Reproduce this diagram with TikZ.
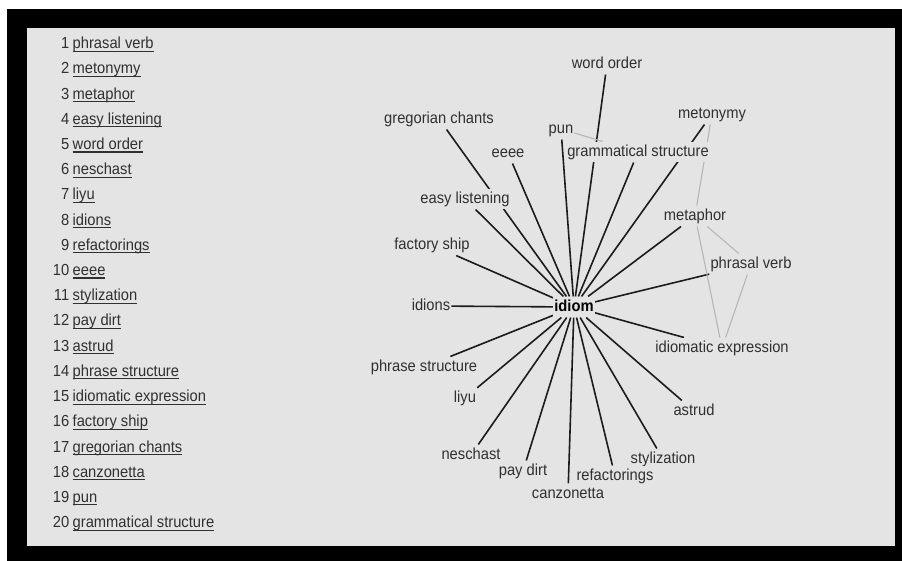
\documentclass[tikz,border=0pt]{standalone}
\usepackage{fontspec}
\setmainfont{Liberation Sans}[FakeStretch=0.92]
\pgfdeclarelayer{frame}
\pgfdeclarelayer{edges}
\pgfsetlayers{frame,edges,main}
\definecolor{bgc}{HTML}{E4E4E4}
\definecolor{txt}{HTML}{303030}
\definecolor{edgek}{HTML}{1C1C1C}
\definecolor{edgeg}{HTML}{B6B6B6}
\newcommand\myul[1]{\setbox0=\hbox{#1}\rlap{\rule[-3pt]{\wd0}{1.1pt}}\box0}
\tikzset{
  lbl/.style={fill=bgc, text=txt, inner xsep=1pt, inner ysep=3pt,
    text height=11.4pt, text depth=3.3pt, font=\fontsize{16}{18}\selectfont},
  hub/.style={lbl, text=black, font=\fontsize{16}{18}\selectfont\bfseries},
  strong/.style={draw=edgek, line width=1.6pt},
  weak/.style={draw=edgeg, line width=1.1pt},
  item/.style={anchor=base west, inner sep=0pt, text=txt, font=\fontsize{16}{18}\selectfont}
}
\begin{document}
\begin{tikzpicture}[x=1pt,y=-1pt]
\useasboundingbox (0,0) rectangle (902,561);
\begin{pgfonlayer}{frame}
\fill[white] (0,0) rectangle (902,561);
\fill[black] (7,9) rectangle (902,561);
\fill[bgc] (27,28) rectangle (895,546);
\end{pgfonlayer}

% list
\foreach \i/\t in {1/phrasal verb,2/metonymy,3/metaphor,4/easy listening,5/word order,
  6/neschast,7/liyu,8/idions,9/refactorings,10/eeee,11/stylization,12/pay dirt,
  13/astrud,14/phrase structure,15/idiomatic expression,16/factory ship,
  17/gregorian chants,18/canzonetta,19/pun,20/grammatical structure}
  \node[item] (l\i) at (52,{48.8+(\i-1)*25.2}) {\makebox[17pt][r]{\i}\hspace{3.5pt}\myul{\t}};

% graph
\node[hub] (idiom) at (574,307) {idiom};
\node[lbl] (wordorder) at (607,64) {word order};
\node[lbl] (gregorian) at (439,119) {gregorian chants};
\node[lbl] (pun) at (561,129) {pun};
\node[lbl] (metonymy) at (712,114) {metonymy};
\node[lbl] (eeee) at (508,153) {eeee};
\node[lbl] (gramm) at (638,152) {grammatical structure};
\node[lbl] (easy) at (465,199) {easy listening};
\node[lbl] (metaphor) at (695,216) {metaphor};
\node[lbl] (factory) at (432,245) {factory ship};
\node[lbl] (phrasal) at (751,264) {phrasal verb};
\node[lbl] (idions) at (431,306) {idions};
\node[lbl] (idiomexp) at (722,348) {idiomatic expression};
\node[lbl] (phrase) at (424,367) {phrase structure};
\node[lbl] (liyu) at (465,398) {liyu};
\node[lbl] (astrud) at (694,411) {astrud};
\node[lbl] (neschast) at (471,455) {neschast};
\node[lbl] (stylization) at (663,459) {stylization};
\node[lbl] (paydirt) at (523,471) {pay dirt};
\node[lbl] (refactorings) at (615,476) {refactorings};
\node[lbl] (canzonetta) at (568,494) {canzonetta};

\begin{pgfonlayer}{edges}
\foreach \n in {wordorder,gregorian,pun,metonymy,eeee,gramm,easy,metaphor,factory,
  phrasal,idions,idiomexp,phrase,liyu,astrud,neschast,stylization,paydirt,
  refactorings,canzonetta}
  \draw[strong] (idiom) -- (\n);
\draw[weak] (pun) -- (gramm);
\draw[weak] (metonymy) -- (metaphor);
\draw[weak] (metaphor) -- (phrasal);
\draw[weak] (metaphor) -- (idiomexp);
\draw[weak] (phrasal) -- (idiomexp);
\end{pgfonlayer}
\end{tikzpicture}
\end{document}
